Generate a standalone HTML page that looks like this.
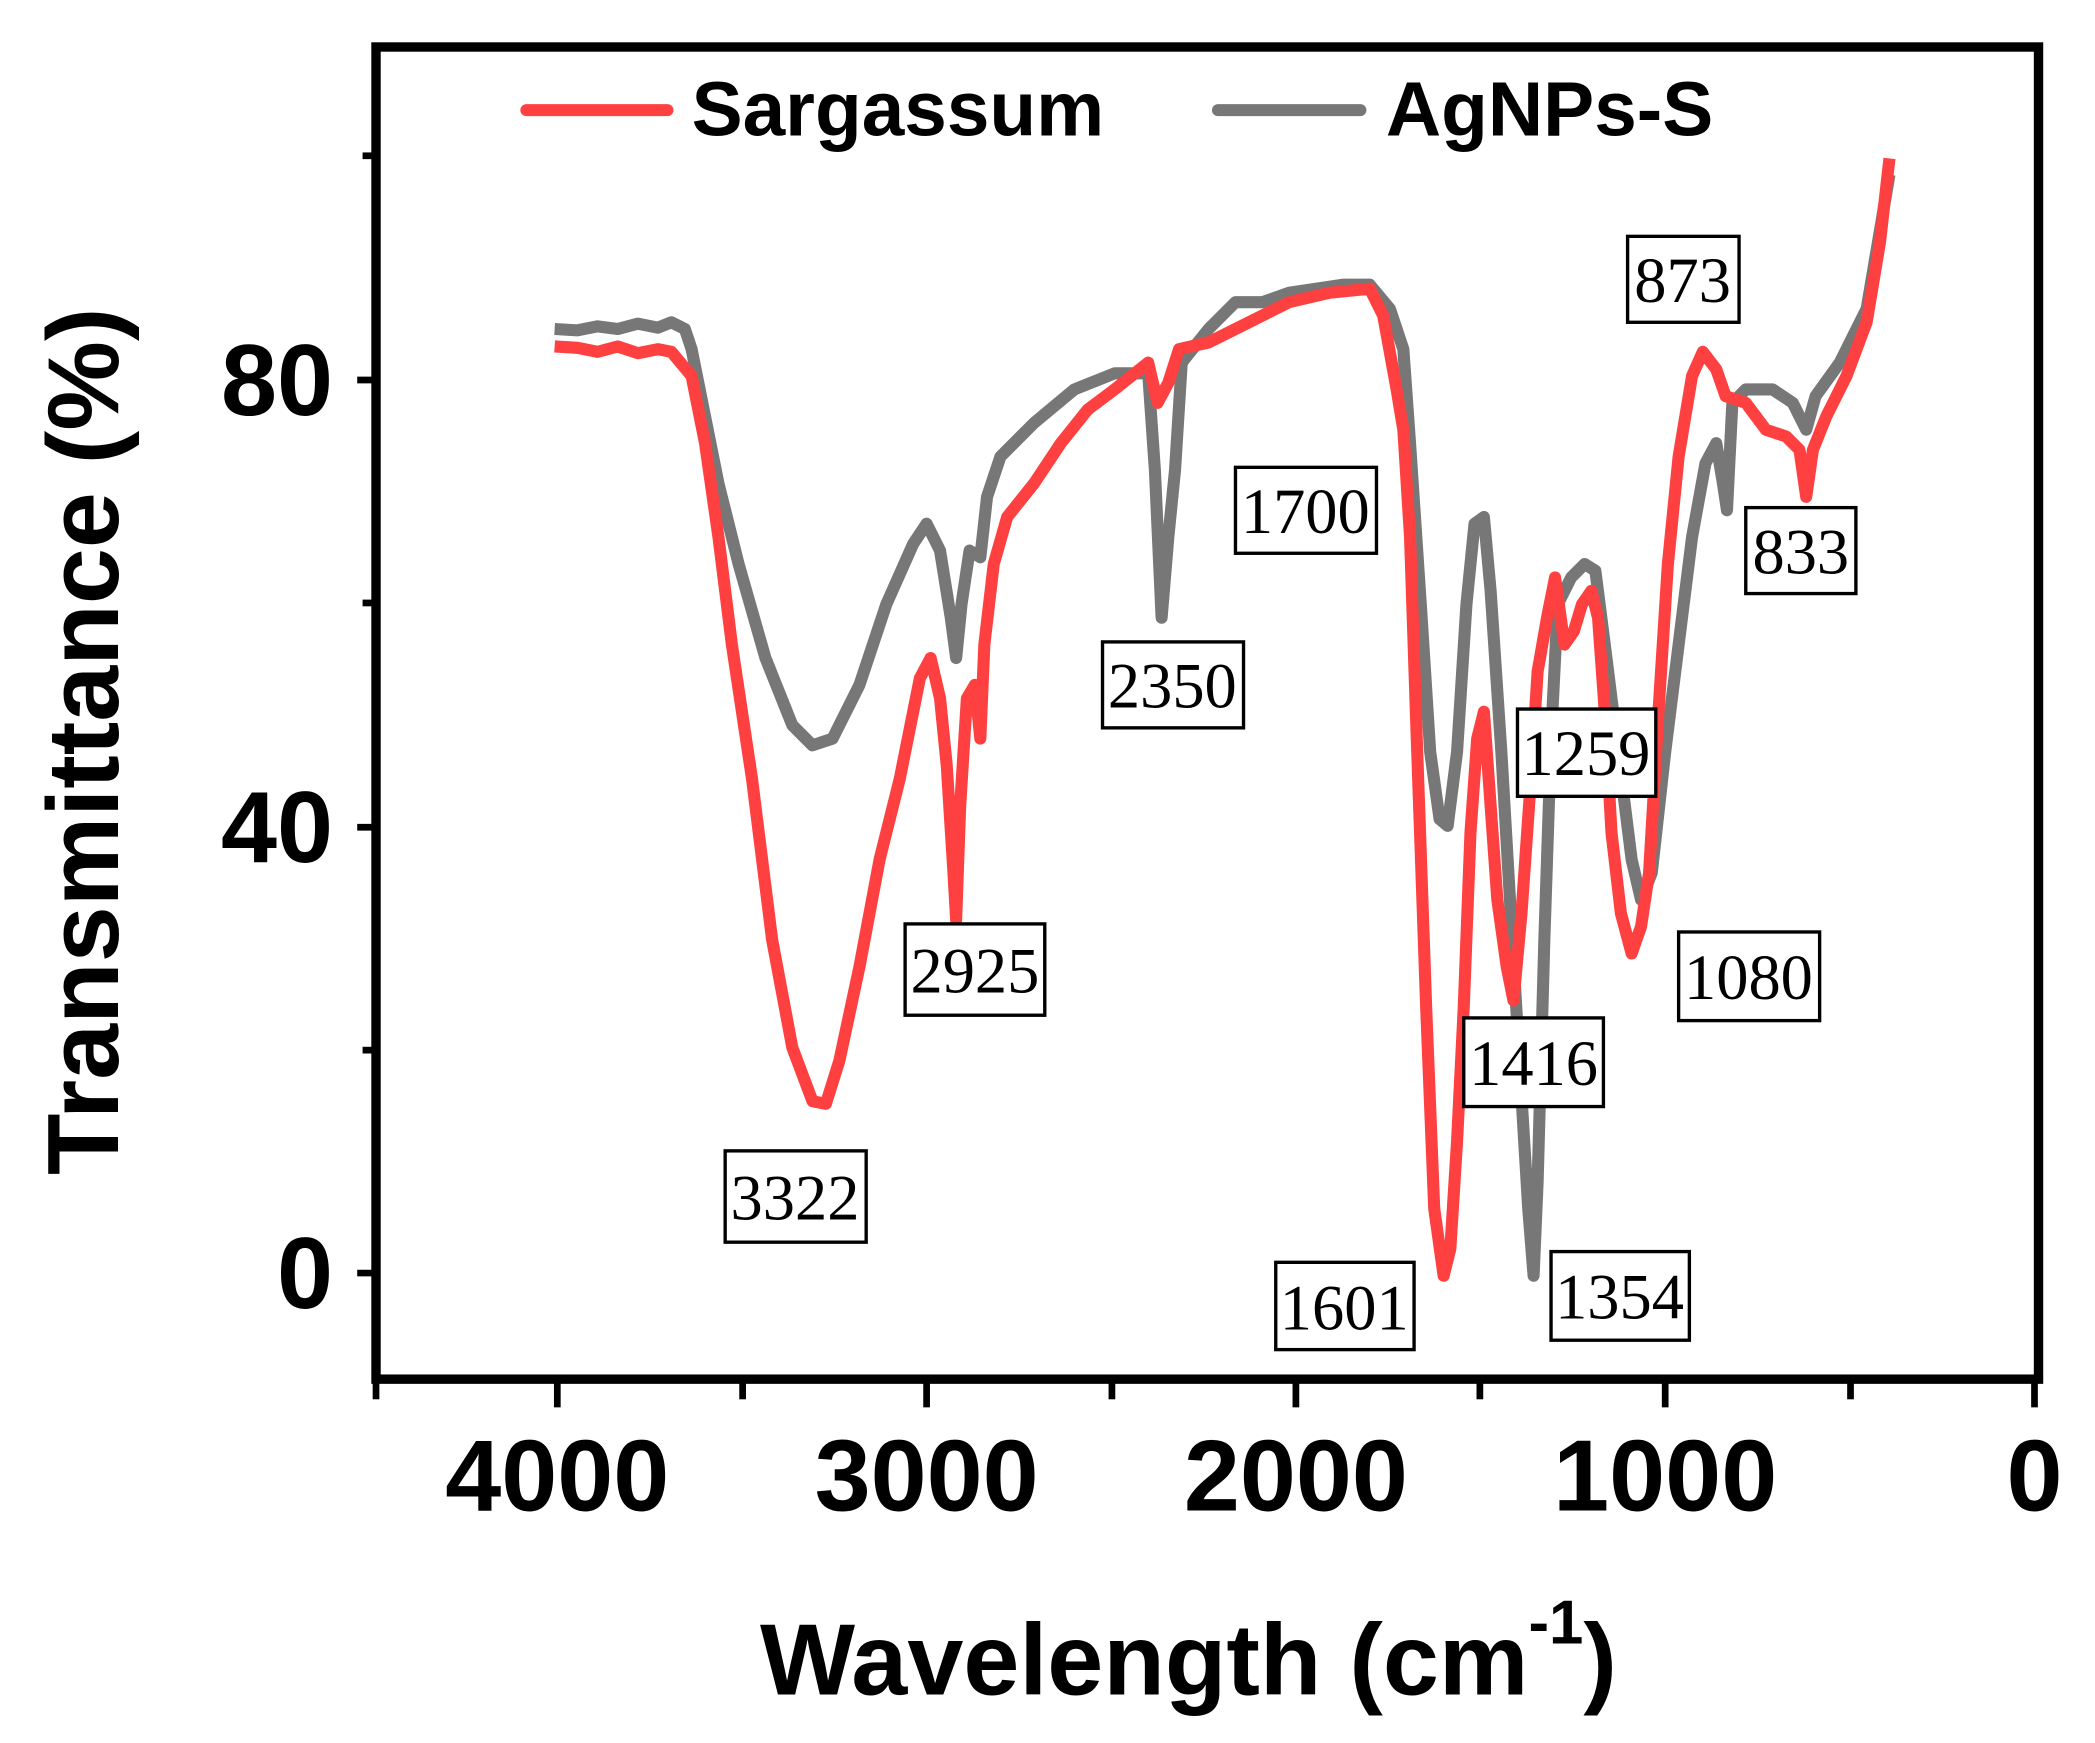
<!DOCTYPE html>
<html><head><meta charset="utf-8"><style>
html,body{margin:0;padding:0;background:#fff;}
svg{display:block}
</style></head><body>
<svg width="2095" height="1743" viewBox="0 0 2095 1743" xmlns="http://www.w3.org/2000/svg">
<rect width="2095" height="1743" fill="#fff"/>
<g transform="scale(1.3429)">
<!-- frame -->
<rect x="280" y="35" width="1238" height="992" fill="none" stroke="#000" stroke-width="7"/>
<!-- y ticks -->
<g stroke="#000" stroke-width="5">
<line x1="266" y1="948" x2="280" y2="948"/><line x1="270" y1="782" x2="280" y2="782"/>
<line x1="266" y1="616" x2="280" y2="616"/><line x1="270" y1="449" x2="280" y2="449"/>
<line x1="266" y1="283" x2="280" y2="283"/><line x1="270" y1="116" x2="280" y2="116"/>
<!-- x ticks -->
<line x1="280" y1="1027" x2="280" y2="1042"/><line x1="415" y1="1027" x2="415" y2="1048"/>
<line x1="553" y1="1027" x2="553" y2="1042"/><line x1="690" y1="1027" x2="690" y2="1048"/>
<line x1="828" y1="1027" x2="828" y2="1042"/><line x1="965" y1="1027" x2="965" y2="1048"/>
<line x1="1102" y1="1027" x2="1102" y2="1042"/><line x1="1240" y1="1027" x2="1240" y2="1048"/>
<line x1="1378" y1="1027" x2="1378" y2="1042"/><line x1="1515" y1="1027" x2="1515" y2="1048"/>
</g>
<g font-family="Liberation Sans, Arial, sans-serif" font-weight="bold" font-size="75" fill="#000">
<text x="248" y="309" text-anchor="end">80</text>
<text x="248" y="642" text-anchor="end">40</text>
<text x="248" y="974" text-anchor="end">0</text>
<text x="415" y="1125" text-anchor="middle">4000</text>
<text x="690" y="1125" text-anchor="middle">3000</text>
<text x="965" y="1125" text-anchor="middle">2000</text>
<text x="1240" y="1125" text-anchor="middle">1000</text>
<text x="1515" y="1125" text-anchor="middle">0</text>
<text x="885" y="1262" text-anchor="middle">Wavelength (cm<tspan font-size="46" dy="-38">-1</tspan><tspan dy="38">)</tspan></text>
<text transform="translate(88,552) rotate(-90)" text-anchor="middle">Transmittance (%)</text>
</g>
<!-- legend -->
<line x1="392" y1="82" x2="497" y2="82" stroke="#ff4040" stroke-width="9" stroke-linecap="round"/>
<line x1="907" y1="82" x2="1013" y2="82" stroke="#777" stroke-width="9" stroke-linecap="round"/>
<g font-family="Liberation Sans, Arial, sans-serif" font-weight="bold" font-size="57" fill="#000">
<text x="515" y="101">Sargassum</text>
<text x="1032" y="101">AgNPs-S</text>
</g>
<!-- curves -->
<polyline fill="none" stroke="#777" stroke-width="9" stroke-linejoin="round" points="413,245 430,246 445,243 460,245 475,241 490,244 500,240 510,245 515,260 525,310 535,360 550,420 570,490 590,540 605,555 620,550 640,510 660,450 680,405 690,390 700,410 708,460 712,490 716,450 722,410 730,415 735,370 745,340 770,315 800,290 830,278 855,278 860,350 865,460 870,400 875,350 880,270 900,245 920,225 940,225 960,218 1000,212 1020,212 1035,230 1045,260 1050,330 1058,450 1065,560 1072,610 1078,615 1085,560 1092,450 1098,390 1105,385 1110,440 1118,560 1125,680 1132,800 1138,900 1142,950 1145,880 1150,700 1155,550 1160,450 1170,430 1180,420 1188,425 1195,480 1205,560 1215,640 1222,670 1230,650 1240,560 1250,480 1260,400 1270,345 1278,330 1283,360 1286,380 1290,300 1300,290 1320,290 1335,300 1345,320 1352,295 1370,270 1390,230 1407,130"/>
<polyline fill="none" stroke="#ff4040" stroke-width="9" stroke-linejoin="round" points="413,258 430,259 445,262 460,258 475,263 490,260 500,262 515,280 525,330 535,400 545,480 560,580 575,700 590,780 605,820 615,822 625,790 640,720 655,640 670,580 685,505 693,490 700,520 705,570 710,650 712,685 715,600 720,520 726,510 730,550 733,480 740,420 750,385 770,360 790,330 810,305 830,290 855,270 862,300 870,285 878,260 900,255 930,240 960,225 990,218 1020,215 1030,235 1040,290 1045,320 1050,400 1055,550 1062,750 1068,900 1075,950 1080,930 1085,850 1090,750 1095,620 1100,550 1105,530 1110,600 1115,670 1122,720 1127,745 1133,680 1140,580 1145,500 1152,460 1158,430 1165,480 1172,470 1178,450 1185,440 1190,460 1195,530 1200,620 1207,680 1215,710 1222,690 1228,650 1235,530 1242,420 1250,340 1260,280 1268,262 1278,275 1285,295 1300,300 1315,320 1330,325 1340,335 1345,370 1350,335 1360,310 1375,280 1390,240 1400,180 1407,118"/>
<!-- annotations -->
<g fill="#fff" stroke="#000" stroke-width="2.5">
<rect x="540" y="857" width="105" height="68"/>
<rect x="674" y="688" width="104" height="68"/>
<rect x="821" y="478" width="105" height="64"/>
<rect x="920" y="348" width="105" height="64"/>
<rect x="950" y="940" width="103" height="65"/>
<rect x="1155" y="932" width="103" height="66"/>
<rect x="1090" y="758" width="104" height="66"/>
<rect x="1130" y="528" width="103" height="65"/>
<rect x="1250" y="694" width="105" height="66"/>
<rect x="1212" y="176" width="83" height="64"/>
<rect x="1300" y="378" width="82" height="64"/>
</g>
<g font-family="Liberation Serif, Times New Roman, serif" font-size="48" fill="#000" text-anchor="middle">
<text x="592" y="908">3322</text>
<text x="726" y="739">2925</text>
<text x="873" y="527">2350</text>
<text x="972" y="397">1700</text>
<text x="1001" y="990">1601</text>
<text x="1206" y="982">1354</text>
<text x="1142" y="808">1416</text>
<text x="1181" y="577">1259</text>
<text x="1302" y="744">1080</text>
<text x="1253" y="225">873</text>
<text x="1341" y="427">833</text>
</g>
</g>
</svg>
</body></html>
